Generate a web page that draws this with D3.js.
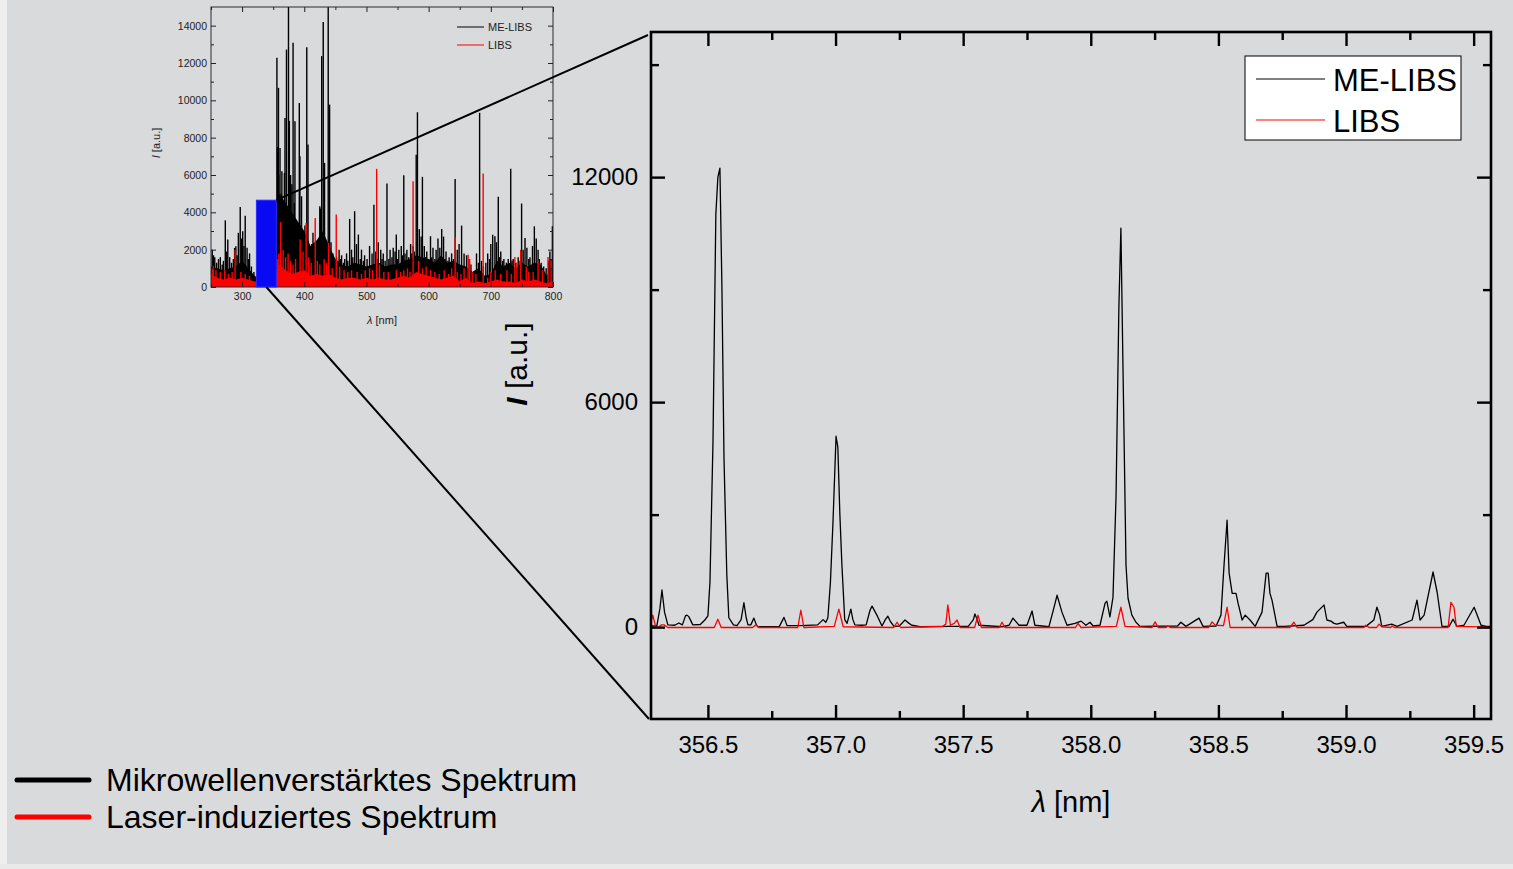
<!DOCTYPE html>
<html>
<head>
<meta charset="utf-8">
<script src="https://cdn.jsdelivr.net/npm/d3@7"></script>
<style>
  body { margin: 0; background: #d9dadc; }
  svg { display: block; font-family: Arial, "Liberation Sans", sans-serif; }
</style>
</head>
<body>
<script>
// ---------------- data ----------------

// zoomed window, [wavelength nm, intensity a.u.]
var meZoom = [
  [356.277, 30], [356.300, 40], [356.312, 500], [356.320, 990], [356.330, 400], [356.343, 60],
  [356.370, 50], [356.386, 110], [356.400, 60], [356.412, 300], [356.418, 320], [356.425, 280],
  [356.441, 60], [356.470, 70], [356.488, 190], [356.500, 300], [356.508, 1200], [356.520, 5000],
  [356.531, 11000], [356.539, 12000], [356.547, 12240], [356.555, 9000], [356.563, 4500],
  [356.574, 1400], [356.582, 250], [356.600, 60], [356.614, 40], [356.630, 200], [356.641, 650],
  [356.650, 250], [356.657, 60], [356.668, 60], [356.680, 240], [356.690, 60], [356.696, 10],
  [356.780, 20], [356.798, 260], [356.810, 40], [356.864, 40], [356.930, 60], [356.951, 200],
  [356.962, 130], [356.970, 250], [356.980, 1200], [356.990, 2800], [357.002, 5090],
  [357.009, 4800], [357.017, 3000], [357.025, 1650], [357.036, 200], [357.045, 100],
  [357.060, 480], [357.068, 200], [357.076, 60], [357.103, 50], [357.120, 60], [357.135, 450],
  [357.143, 560], [357.162, 320], [357.182, 30], [357.195, 200], [357.205, 290], [357.215, 150],
  [357.229, 20], [357.250, 30], [357.272, 190], [357.288, 100], [357.299, 50], [357.331, 10],
  [357.444, 20], [357.520, 20], [357.540, 200], [357.546, 350], [357.555, 200], [357.562, 50],
  [357.652, 10], [357.680, 50], [357.695, 240], [357.719, 50], [357.750, 50], [357.770, 430],
  [357.781, 50], [357.836, 10], [357.855, 500], [357.868, 850], [357.887, 400], [357.907, 50],
  [357.938, 100], [357.962, 160], [357.981, 50], [357.997, 130], [358.009, 30], [358.036, 50],
  [358.056, 640], [358.063, 690], [358.075, 270], [358.087, 800], [358.099, 3500],
  [358.110, 8500], [358.118, 10640], [358.126, 7000], [358.138, 1650], [358.146, 770],
  [358.161, 320], [358.177, 130], [358.193, 20], [358.340, 30], [358.353, 130], [358.373, 20],
  [358.424, 240], [358.440, 20], [358.491, 30], [358.510, 320], [358.522, 1650], [358.534, 2850],
  [358.542, 1440], [358.554, 900], [358.569, 900], [358.577, 640], [358.593, 190],
  [358.605, 320], [358.624, 190], [358.644, 20], [358.671, 400], [358.687, 1440],
  [358.695, 1440], [358.702, 900], [358.710, 720], [358.730, 20], [358.757, 20], [358.835, 50],
  [358.870, 200], [358.886, 400], [358.914, 590], [358.925, 190], [358.941, 160], [358.953, 100],
  [358.964, 80], [358.991, 130], [359.003, 20], [359.078, 20], [359.109, 190], [359.121, 530],
  [359.132, 320], [359.140, 20], [359.179, 80], [359.200, 20], [359.259, 190], [359.278, 720],
  [359.290, 190], [359.306, 320], [359.341, 1470], [359.357, 930], [359.376, 20], [359.404, 20],
  [359.419, 210], [359.435, 20], [359.462, 50], [359.502, 530], [359.529, 50], [359.549, 20],
  [359.568, 20]
];

var libsZoom = [
  [356.277, 150], [356.284, 320], [356.295, 20], [356.305, -10], [356.318, 60], [356.328, 60],
  [356.343, -10], [356.525, -10], [356.539, 210], [356.552, -10], [356.675, -10], [356.688, 60],
  [356.700, -10], [356.852, -10], [356.864, 450], [356.876, -10], [356.995, 20], [357.013, 480],
  [357.030, 10], [357.228, -10], [357.241, 130], [357.255, -10], [357.420, 20], [357.432, 80],
  [357.440, 590], [357.450, 50], [357.465, 100], [357.476, 190], [357.488, -10], [357.545, -10],
  [357.558, 320], [357.572, -10], [357.642, -10], [357.652, 130], [357.664, -10], [357.940, -10],
  [357.950, 100], [357.962, -10], [358.100, 20], [358.118, 530], [358.134, 20], [358.240, -10],
  [358.252, 140], [358.264, -10], [358.295, -10], [358.302, 30], [358.312, -10], [358.462, -10],
  [358.475, 140], [358.488, 50], [358.520, 40], [358.534, 530], [358.546, -10], [358.780, -10],
  [358.796, 130], [358.808, -10], [359.070, -10], [359.078, 50], [359.090, -10], [359.120, -10],
  [359.129, 80], [359.140, 10], [359.175, -10], [359.180, 30], [359.190, -10], [359.400, -10],
  [359.411, 660], [359.423, 530], [359.432, 20], [359.568, 0]
];

// survey spectrum: emission lines [wavelength nm, peak intensity]
var meLines = [
  [252, 2000], [254, 1700], [256, 1600], [259, 1300], [262, 1500], [265, 1600], [268, 1200],
  [270, 1400], [273, 3570], [275, 1900], [277, 2540], [280, 1600], [283, 1300], [286, 1500],
  [288, 2090], [290, 2180], [292, 1700], [294, 2900], [297, 4290], [299, 2600], [301, 2980],
  [303, 2200], [305, 3820], [308, 2100], [310, 1500], [312, 1800], [315, 1100], [317, 660],
  [319, 800], [356, 12280], [357, 7500], [358.5, 10670], [359, 6000], [361, 7450], [363, 5000],
  [364, 6200], [366, 4500], [368, 6100], [369, 9060], [371.4, 12720], [374.6, 15000], [376, 8900],
  [378, 6000], [380, 5500], [382, 13080], [384, 4500], [385, 8880], [388, 3500], [390, 2800],
  [392, 9860], [393, 7000], [395.6, 4860], [397, 3000], [399, 2700], [401, 3300], [404, 12850],
  [406, 7630], [409, 2000], [412, 2300], [414, 2900], [418, 2000], [421, 2200], [423, 1800],
  [425, 4320], [426, 4200], [428, 12370], [430.5, 14190], [432.6, 6650], [434, 2500], [436, 2300],
  [438.5, 15000], [440.7, 9770], [443, 2400], [446, 1800], [449, 1500], [452, 1600], [454, 1400],
  [456, 2000], [458, 1500], [460, 1700], [463, 1300], [465, 1500], [468, 1800], [470, 1400],
  [473, 3650], [476, 2000], [478, 1600], [481, 4060], [484, 2300], [487, 2810], [490, 1500],
  [492, 2000], [495, 1400], [497, 1700], [501, 1500], [505, 2200], [509, 1800], [512, 4410],
  [515, 1900], [517, 1500], [519, 2400], [523, 2000], [525, 1500], [527, 1800], [530, 1400],
  [533, 5540], [536, 1500], [538, 2000], [541, 1600], [543, 2100], [546, 1900], [548, 2810],
  [550, 1500], [552, 2000], [556, 2200], [558, 1700], [560, 5990], [562, 1800], [565, 2000],
  [568, 1600], [571, 2300], [573, 1800], [575, 2200], [577, 1900], [580, 7090], [582, 9360],
  [585, 3100], [588, 2700], [590, 5900], [593, 2200], [595, 1600], [597, 1900], [600, 1500],
  [603, 2720], [605, 1600], [607, 2100], [610, 1500], [612, 2000], [615, 2600], [618, 2100],
  [621, 3110], [624, 2700], [626, 1500], [628, 1900], [631, 1400], [633, 1600], [637, 1800],
  [640, 1500], [642.6, 5790], [646, 2000], [649, 2300], [653, 3290], [657, 1800], [661, 1700],
  [665, 1500], [668, 1200], [677, 1800], [680, 1300], [682, 9330], [685, 1400], [688, 1100],
  [692, 1300], [695, 1800], [698, 1500], [700, 2300], [703, 2800], [706.6, 2720], [709, 2400],
  [712, 4830], [714, 1600], [716, 1900], [719, 1400], [721, 1500], [725, 1300], [728, 1500],
  [732, 6330], [734, 1400], [736, 1500], [740, 1300], [744, 1600], [747, 1400], [749.5, 4470],
  [752, 2000], [755, 2630], [758, 2100], [761, 1500], [763, 1600], [767, 2200], [770, 3250],
  [773, 2600], [776, 2000], [778, 1500], [781, 1300], [785, 1100], [789, 1000], [793, 1400],
  [795, 1900], [797, 1500], [799, 3250]
];

var libsLines = [
  [252, 1000], [253.8, 1110], [258, 900], [265, 800], [272, 900], [278, 700], [284, 800],
  [288.7, 2000], [298, 800], [305, 700], [312, 600], [357, 1500], [359, 1800], [362, 3480],
  [366, 2000], [370, 1600], [374, 1800], [378, 1400], [382, 1200], [386, 1500], [393.4, 2540],
  [398, 1900], [403, 3430], [407, 1600], [411, 1300], [417.6, 3700], [421, 1400], [425, 1200],
  [432, 1500], [436, 1300], [439, 2360], [445, 1000], [451.4, 3880], [457, 1100], [464, 900],
  [470, 800], [476, 900], [485, 800], [492, 700], [498, 900], [505, 1000], [510, 900],
  [516.4, 6330], [521, 1200], [528, 800], [535, 800], [548, 900], [555, 800], [560, 900],
  [566, 1000], [570, 800], [575, 5660], [584, 1400], [590, 1000], [596, 1100], [603, 900],
  [610, 800], [617, 700], [625, 900], [632, 700], [637, 1000], [642.6, 2680], [646, 800],
  [652, 700], [657, 1000], [663.5, 1730], [666, 1500], [670, 800], [676, 700], [687.7, 6080],
  [695, 500], [700, 800], [707, 900], [716, 700], [726, 900], [733, 700], [738.7, 1610],
  [742, 1300], [748, 2000], [757, 1100], [761, 800], [768, 800], [776, 1400], [783, 900],
  [792, 1610], [797, 1400]
];

// survey spectrum: level of the dense line forest, every 10 nm
var surveyWave = [250, 260, 270, 280, 290, 300, 310, 320, 330, 340, 350, 360, 370, 380, 390, 400,
  410, 420, 430, 440, 450, 460, 470, 480, 490, 500, 510, 520, 530, 540, 550, 560, 570, 580, 590,
  600, 610, 620, 630, 640, 650, 660, 670, 680, 690, 700, 710, 720, 730, 740, 750, 760, 770, 780,
  790, 800];
var meFloor = [1100, 1000, 900, 1000, 1100, 1400, 1000, 600, 400, 400, 1500, 5000, 4500, 4000,
  3500, 3000, 2200, 2500, 3000, 2200, 1500, 1200, 1100, 1300, 1200, 1100, 1200, 1300, 1100, 1200,
  1200, 1400, 1500, 1700, 1600, 1500, 1300, 1700, 1300, 1400, 1200, 1100, 800, 1000, 600, 700,
  1400, 1100, 1300, 1000, 1300, 1100, 1300, 1200, 600, 1200];
var libsFloor = [700, 500, 400, 500, 400, 500, 400, 300, 300, 300, 600, 1200, 900, 700, 800, 900,
  600, 700, 600, 700, 500, 400, 500, 500, 400, 500, 400, 500, 400, 400, 500, 600, 500, 800, 700,
  600, 500, 400, 500, 600, 300, 500, 200, 300, 200, 300, 400, 300, 300, 200, 400, 300, 400, 300,
  200, 300];

// highlighted region in the survey
var boxRange = [323, 355];
var boxTop = 4650;

// ticks
var zoomXTicks = [356.5, 357.0, 357.5, 358.0, 358.5, 359.0, 359.5];
var zoomXMinor = [356.75, 357.25, 357.75, 358.25, 358.75, 359.25];
var zoomYTicks = [0, 6000, 12000];
var zoomYMinor = [3000, 9000, 15000];
var surveyXTicks = [300, 400, 500, 600, 700, 800];
var surveyXMinor = [250, 350, 450, 550, 650, 750];
var surveyYTicks = [0, 2000, 4000, 6000, 8000, 10000, 12000, 14000];
var surveyYMinor = [1000, 3000, 5000, 7000, 9000, 11000, 13000];

var seriesNames = ["ME-LIBS", "LIBS"];
var seriesColors = ["#000000", "#ff0000"];
var legendLabels = ["Mikrowellenverstärktes Spektrum", "Laser-induziertes Spektrum"];

// ---------------- drawing ----------------

var W = 1513, H = 869;
var svg = d3.select("body").append("svg")
    .attr("width", W)
    .attr("height", H);

var defs = svg.append("defs");
defs.append("filter").attr("id", "soft")
    .attr("x", "-20%").attr("y", "-200%").attr("width", "140%").attr("height", "500%")
  .append("feGaussianBlur").attr("stdDeviation", 1.6);
defs.append("clipPath").attr("id", "surveyClip")
  .append("rect").attr("x", 211).attr("y", 7).attr("width", 342).attr("height", 280);

svg.append("rect").attr("width", W).attr("height", H).attr("fill", "#d9dadc");
svg.append("rect").attr("width", 7).attr("height", H).attr("fill", "#eeeeef");
svg.append("rect").attr("y", 864).attr("width", W).attr("height", 5).attr("fill", "#e9e9ea");

var intFmt = d3.format("d");

// ---- survey (inset) ----
var xS = d3.scaleLinear().domain([250, 800]).range([211, 553]);
var yS = d3.scaleLinear().domain([0, 15000]).range([287, 7]);

var inset = svg.append("g");
var plotS = inset.append("g").attr("clip-path", "url(#surveyClip)");

var floorArea = d3.area()
    .x(function(d) { return xS(d[0]); })
    .y0(yS(0))
    .y1(function(d) { return yS(d[1]); });

function drawSurvey(lines, floor, color) {
  plotS.append("path")
      .datum(d3.zip(surveyWave, floor))
      .attr("d", floorArea)
      .attr("fill", color);
  plotS.append("g").selectAll("line")
      .data(lines)
    .enter().append("line")
      .attr("x1", function(d) { return xS(d[0]); })
      .attr("x2", function(d) { return xS(d[0]); })
      .attr("y1", yS(0))
      .attr("y2", function(d) { return yS(d[1]); })
      .attr("stroke", color)
      .attr("stroke-width", 1.4);
}
drawSurvey(meLines, meFloor, seriesColors[0]);
drawSurvey(libsLines, libsFloor, seriesColors[1]);

// frame + ticks of the inset
inset.append("rect")
    .attr("x", 211).attr("y", 7).attr("width", 342).attr("height", 280)
    .attr("fill", "none").attr("stroke", "#2a2a2a").attr("stroke-width", 1);

function styleAxis(g, w, col) {
  g.select(".domain").remove();
  g.selectAll("line").attr("stroke", col).attr("stroke-width", w);
  g.selectAll("text").attr("fill", col);
}

inset.append("g").attr("transform", "translate(0,287)")
    .call(d3.axisBottom(xS).tickValues(surveyXTicks).tickSize(-5).tickPadding(6).tickFormat(intFmt))
    .call(styleAxis, 1, "#222")
    .selectAll("text").style("font-size", "10.5px").style("font-family", "Arial");
inset.append("g").attr("transform", "translate(0,287)")
    .call(d3.axisBottom(xS).tickValues(surveyXMinor).tickSize(-3).tickFormat(""))
    .call(styleAxis, 1, "#222");
inset.append("g").attr("transform", "translate(0,7)")
    .call(d3.axisTop(xS).tickValues(surveyXTicks).tickSize(-5).tickFormat(""))
    .call(styleAxis, 1, "#222");
inset.append("g").attr("transform", "translate(0,7)")
    .call(d3.axisTop(xS).tickValues(surveyXMinor).tickSize(-3).tickFormat(""))
    .call(styleAxis, 1, "#222");
inset.append("g").attr("transform", "translate(211,0)")
    .call(d3.axisLeft(yS).tickValues(surveyYTicks).tickSize(-5).tickPadding(4).tickFormat(intFmt))
    .call(styleAxis, 1, "#222")
    .selectAll("text").style("font-size", "10.5px").style("font-family", "Arial");
inset.append("g").attr("transform", "translate(211,0)")
    .call(d3.axisLeft(yS).tickValues(surveyYMinor).tickSize(-3).tickFormat(""))
    .call(styleAxis, 1, "#222");
inset.append("g").attr("transform", "translate(553,0)")
    .call(d3.axisRight(yS).tickValues(surveyYTicks).tickSize(-5).tickFormat(""))
    .call(styleAxis, 1, "#222");
inset.append("g").attr("transform", "translate(553,0)")
    .call(d3.axisRight(yS).tickValues(surveyYMinor).tickSize(-3).tickFormat(""))
    .call(styleAxis, 1, "#222");

// inset titles
var xtS = inset.append("text")
    .attr("x", 382).attr("y", 324)
    .attr("text-anchor", "middle")
    .style("font-size", "11px").attr("fill", "#222");
xtS.append("tspan").style("font-style", "italic").text("λ");
xtS.append("tspan").text(" [nm]");

var ytS = inset.append("text")
    .attr("transform", "translate(160,143) rotate(-90)")
    .attr("text-anchor", "middle")
    .style("font-size", "11px").attr("fill", "#222");
ytS.append("tspan").style("font-style", "italic").text("I");
ytS.append("tspan").text(" [a.u.]");

// inset legend
var legS = inset.append("g");
seriesNames.forEach(function(name, i) {
  legS.append("line")
      .attr("x1", 457).attr("x2", 484)
      .attr("y1", 27 + i * 18).attr("y2", 27 + i * 18)
      .attr("stroke", seriesColors[i]).attr("stroke-width", 1);
  legS.append("text")
      .attr("x", 488).attr("y", 31 + i * 18)
      .style("font-size", "11px").attr("fill", "#222")
      .text(name);
});

// highlighted box
inset.append("rect")
    .attr("x", xS(boxRange[0]))
    .attr("y", yS(boxTop))
    .attr("width", xS(boxRange[1]) - xS(boxRange[0]))
    .attr("height", yS(0) - yS(boxTop))
    .attr("fill", "#0a0af2")
    .attr("stroke", "#2a2aff").attr("stroke-width", 1);

// ---- zoomed spectrum ----
var xZ = d3.scaleLinear().domain([356.277, 359.568]).range([651, 1491]);
var yZ = d3.scaleLinear().domain([-2450, 15870]).range([719, 32]);

var main = svg.append("g");

var spec = d3.line()
    .x(function(d) { return xZ(d[0]); })
    .y(function(d) { return yZ(d[1]); });

main.append("path").datum(meZoom)
    .attr("d", spec)
    .attr("fill", "none")
    .attr("stroke", seriesColors[0])
    .attr("stroke-width", 1.3)
    .attr("stroke-linejoin", "round");
main.append("path").datum(libsZoom)
    .attr("d", spec)
    .attr("fill", "none")
    .attr("stroke", seriesColors[1])
    .attr("stroke-width", 1.3)
    .attr("stroke-linejoin", "round");

main.append("rect")
    .attr("x", 651).attr("y", 32).attr("width", 840).attr("height", 687)
    .attr("fill", "none").attr("stroke", "#000").attr("stroke-width", 2.6);

main.append("g").attr("transform", "translate(0,719)")
    .call(d3.axisBottom(xZ).tickValues(zoomXTicks).tickSize(-14).tickPadding(17)
      .tickFormat(d3.format(".1f")))
    .call(styleAxis, 2.4, "#000")
    .selectAll("text").style("font-size", "24px").style("font-family", "Arial");
main.append("g").attr("transform", "translate(0,719)")
    .call(d3.axisBottom(xZ).tickValues(zoomXMinor).tickSize(-8).tickFormat(""))
    .call(styleAxis, 2.4, "#000");
main.append("g").attr("transform", "translate(0,32)")
    .call(d3.axisTop(xZ).tickValues(zoomXTicks).tickSize(-14).tickFormat(""))
    .call(styleAxis, 2.4, "#000");
main.append("g").attr("transform", "translate(0,32)")
    .call(d3.axisTop(xZ).tickValues(zoomXMinor).tickSize(-8).tickFormat(""))
    .call(styleAxis, 2.4, "#000");
main.append("g").attr("transform", "translate(651,0)")
    .call(d3.axisLeft(yZ).tickValues(zoomYTicks).tickSize(-14).tickPadding(13).tickFormat(intFmt))
    .call(styleAxis, 2.4, "#000")
    .selectAll("text").style("font-size", "24px").style("font-family", "Arial");
main.append("g").attr("transform", "translate(651,0)")
    .call(d3.axisLeft(yZ).tickValues(zoomYMinor).tickSize(-8).tickFormat(""))
    .call(styleAxis, 2.4, "#000");
main.append("g").attr("transform", "translate(1491,0)")
    .call(d3.axisRight(yZ).tickValues(zoomYTicks).tickSize(-14).tickFormat(""))
    .call(styleAxis, 2.4, "#000");
main.append("g").attr("transform", "translate(1491,0)")
    .call(d3.axisRight(yZ).tickValues(zoomYMinor).tickSize(-8).tickFormat(""))
    .call(styleAxis, 2.4, "#000");

// titles
var xtZ = main.append("text")
    .attr("x", 1071).attr("y", 812)
    .attr("text-anchor", "middle")
    .style("font-size", "29px");
xtZ.append("tspan").style("font-style", "italic").text("λ");
xtZ.append("tspan").text(" [nm]");

var ytZ = main.append("text")
    .attr("transform", "translate(527,364) rotate(-90)")
    .attr("text-anchor", "middle")
    .style("font-size", "30px");
ytZ.append("tspan").style("font-style", "italic").style("font-weight", "bold").text("I");
ytZ.append("tspan").text(" [a.u.]");

// legend box
var legZ = main.append("g");
legZ.append("rect")
    .attr("x", 1245).attr("y", 56).attr("width", 216).attr("height", 84)
    .attr("fill", "#fff").attr("stroke", "#000").attr("stroke-width", 1);
seriesNames.forEach(function(name, i) {
  legZ.append("line")
      .attr("x1", 1256).attr("x2", 1325)
      .attr("y1", 79 + i * 41).attr("y2", 79 + i * 41)
      .attr("stroke", seriesColors[i]).attr("stroke-width", 1.2);
  legZ.append("text")
      .attr("x", 1333).attr("y", 91 + i * 41)
      .style("font-size", "31px")
      .text(name);
});

// ---- connectors between the box and the zoom ----
var conn = svg.append("g").attr("stroke", "#000").attr("stroke-width", 2);
conn.append("line")
    .attr("x1", xS(boxRange[1])).attr("y1", yS(boxTop))
    .attr("x2", xZ.range()[0] - 3).attr("y2", yZ.range()[1] + 3);
conn.append("line")
    .attr("x1", (xS(boxRange[0]) + xS(boxRange[1])) / 2).attr("y1", yS(0))
    .attr("x2", xZ.range()[0] - 2).attr("y2", yZ.range()[0]);

// ---- bottom legend ----
var legB = svg.append("g");
legendLabels.forEach(function(label, i) {
  var y = 780 + i * 37;
  legB.append("line")
      .attr("x1", 18).attr("x2", 89)
      .attr("y1", y + 4).attr("y2", y + 4)
      .attr("stroke", "#8c8c8e").attr("stroke-width", 5)
      .attr("opacity", 0.7)
      .attr("filter", "url(#soft)");
  legB.append("line")
      .attr("x1", 17).attr("x2", 89)
      .attr("y1", y).attr("y2", y)
      .attr("stroke", seriesColors[i]).attr("stroke-width", 5)
      .attr("stroke-linecap", "round");
  legB.append("text")
      .attr("x", 106).attr("y", y + 11)
      .style("font-size", "32px")
      .text(label);
});
</script>
</body>
</html>
